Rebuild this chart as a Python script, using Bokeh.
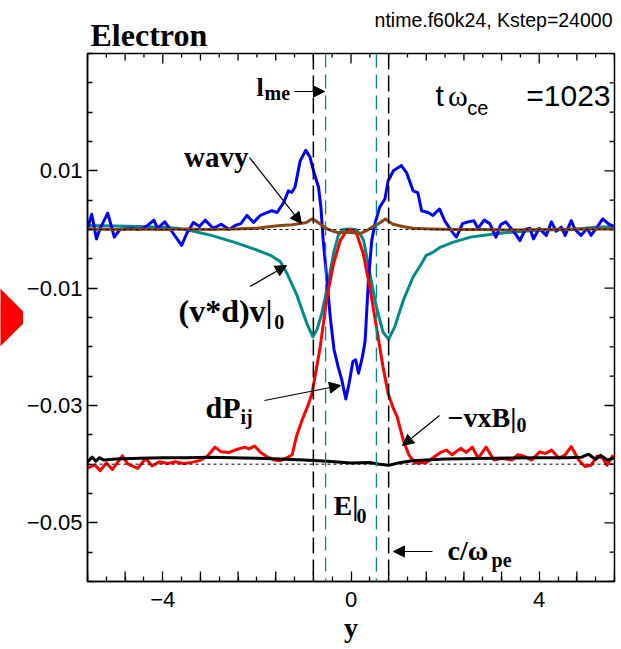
from math import pi
from bokeh.plotting import figure
from bokeh.models import (Range1d, Span, Label, Arrow, NormalHead, FixedTicker)
from bokeh.layouts import column, row
from bokeh.embed import file_html
from bokeh.resources import INLINE

# ---------------- data ----------------
y_blue = [-5.6, -5.51, -5.41, -5.33, -5.17, -5.03, -4.91, -4.66, -4.49, -4.32,
          -4.19, -4.11, -3.96, -3.81, -3.6, -3.48, -3.35, -3.22, -3.1, -2.93,
          -2.76, -2.59, -2.46, -2.34, -2.21, -2.07, -1.93, -1.68, -1.57, -1.43,
          -1.33, -1.26, -1.19, -1.08, -0.96, -0.87, -0.78, -0.69, -0.64, -0.59,
          -0.51, -0.44, -0.36, -0.27, -0.2, -0.11, -0.04, 0.04, 0.1, 0.16,
          0.24, 0.3, 0.37, 0.44, 0.51, 0.61, 0.72, 0.79, 0.9, 1.07,
          1.18, 1.32, 1.42, 1.5, 1.64, 1.74, 1.88, 1.99, 2.13, 2.24,
          2.37, 2.49, 2.61, 2.7, 2.83, 2.95, 3.08, 3.18, 3.29, 3.42,
          3.5, 3.59, 3.7, 3.8, 3.88, 4.0, 4.15, 4.26, 4.36, 4.47,
          4.55, 4.68, 4.76, 4.89, 5.02, 5.1, 5.22, 5.35, 5.48, 5.6]
v_blue = [0.0002, 0.0026, -0.0016, 0.0002, 0.0028, -0.0013, 0.0, 0.0002, 0.0, 0.0007,
          0.0016, 0.0002, 0.0013, -0.0003, -0.0027, -0.0005, 0.0012, 0.0005, 0.0016, 0.0002,
          0.0009, 0.0, 0.0007, 0.001, 0.0024, 0.0012, 0.0024, 0.0032, 0.0029, 0.0046,
          0.0066, 0.0063, 0.0072, 0.0117, 0.0135, 0.0123, 0.0095, 0.0072, 0.0038, -0.0019,
          -0.0087, -0.015, -0.0205, -0.0235, -0.0255, -0.0289, -0.0262, -0.0225, -0.0222, -0.0245,
          -0.0218, -0.019, -0.0087, -0.0019, 0.001, 0.0038, 0.0052, 0.0083, 0.01, 0.0109,
          0.0097, 0.0066, 0.0063, 0.0032, 0.0029, 0.0024, 0.0035, 0.0015, -0.0002, -0.0013,
          0.001, 0.0013, 0.0015, 0.0002, 0.0016, 0.001, -0.0013, 0.0008, 0.0013, 0.0,
          -0.0008, -0.0019, 0.0, 0.0002, -0.0016, 0.0002, -0.001, 0.0013, -0.0003, 0.0004,
          -0.001, 0.0015, 0.0, -0.001, 0.0002, -0.001, 0.0003, 0.0018, 0.0009, 0.0005]

y_teal = [-5.6, -5.0, -4.5, -4.0, -3.7, -3.39, -2.97, -2.47, -2.0, -1.71,
          -1.5, -1.36, -1.15, -0.94, -0.81, -0.72, -0.62, -0.5, -0.37, -0.27,
          -0.18, -0.05, 0.1, 0.2, 0.27, 0.4, 0.54, 0.68, 0.8, 0.93,
          1.11, 1.32, 1.5, 1.6, 1.74, 1.88, 2.16, 2.54, 2.91, 3.33,
          4.0, 4.7, 5.2, 5.6]
v_teal = [0.0007, 0.0006, 0.0005, 0.0004, 0.0002, -0.0002, -0.001, -0.0022, -0.0035, -0.0044,
          -0.0055, -0.0075, -0.0112, -0.016, -0.0183, -0.017, -0.0143, -0.0098, -0.004, -0.001,
          0.0, 0.0001, 0.0, -0.0008, -0.0019, -0.0075, -0.0132, -0.0175, -0.0187, -0.0166,
          -0.0121, -0.0081, -0.0058, -0.0044, -0.0039, -0.0031, -0.0022, -0.0013, -0.0009, -0.0005,
          -0.0001, 0.0, 0.0004, 0.0005]

y_red = [-5.6, -5.45, -5.33, -5.2, -5.07, -4.86, -4.74, -4.53, -4.36, -4.23,
         -4.07, -3.9, -3.73, -3.56, -3.39, -3.22, -3.06, -2.89, -2.76, -2.59,
         -2.43, -2.26, -2.17, -2.05, -1.92, -1.79, -1.63, -1.5, -1.38, -1.25,
         -1.16, -1.04, -0.91, -0.83, -0.66, -0.51, -0.37, -0.23, -0.09, 0.01,
         0.12, 0.26, 0.4, 0.54, 0.68, 0.79, 0.9, 0.98, 1.11, 1.23,
         1.36, 1.61, 1.78, 1.9, 2.03, 2.15, 2.33, 2.45, 2.58, 2.7,
         2.87, 3.04, 3.2, 3.42, 3.54, 3.66, 3.84, 4.01, 4.13, 4.26,
         4.42, 4.55, 4.68, 4.84, 4.97, 5.1, 5.23, 5.35, 5.44, 5.56, 5.6]
v_red = [-0.0407, -0.0401, -0.0411, -0.0398, -0.0409, -0.0386, -0.04, -0.0407, -0.039, -0.0403,
         -0.0396, -0.0399, -0.0396, -0.0399, -0.0397, -0.0394, -0.0387, -0.0371, -0.0379, -0.038,
         -0.0375, -0.0371, -0.0374, -0.0369, -0.038, -0.0387, -0.0393, -0.0394, -0.039, -0.0384,
         -0.0353, -0.0325, -0.0299, -0.028, -0.0203, -0.0115, -0.0058, -0.0019, -0.0002, 0.0,
         -0.0007, -0.0041, -0.0098, -0.0166, -0.0234, -0.028, -0.0305, -0.0319, -0.0359, -0.0384,
         -0.0398, -0.0397, -0.0387, -0.038, -0.0376, -0.0384, -0.0373, -0.038, -0.0371, -0.039,
         -0.0371, -0.0393, -0.039, -0.0393, -0.0384, -0.0386, -0.0393, -0.0379, -0.0382, -0.0376,
         -0.039, -0.0384, -0.037, -0.0393, -0.0404, -0.0402, -0.0386, -0.039, -0.0402, -0.0386, -0.0388]

y_black = [-5.6, -5.5, -5.42, -5.35, -5.25, -5.0, -4.5, -4.0, -3.5, -3.0,
           -2.5, -2.0, -1.5, -1.0, -0.5, 0.0, 0.4, 0.6, 0.8, 1.0,
           1.3, 2.0, 3.0, 4.0, 4.6, 4.9, 5.05, 5.2, 5.3, 5.45, 5.6]
v_black = [-0.0396, -0.0388, -0.0395, -0.0389, -0.0393, -0.0391, -0.039, -0.0389, -0.0389, -0.0388,
           -0.0389, -0.039, -0.0391, -0.0393, -0.0395, -0.0398, -0.0397, -0.04, -0.0402, -0.0398,
           -0.0394, -0.0391, -0.039, -0.0389, -0.0389, -0.0388, -0.0383, -0.0392, -0.0385, -0.0393, -0.0389]

y_brown = [-5.6, -5.0, -4.5, -4.0, -3.5, -3.0, -2.5, -2.0, -1.7, -1.5,
           -1.25, -1.08, -0.95, -0.83, -0.75, -0.62, -0.48, -0.3, 0.0, 0.19,
           0.33, 0.47, 0.61, 0.73, 0.82, 0.89, 1.1, 1.32, 1.7, 2.2,
           2.8, 3.5, 4.2, 5.0, 5.6]
v_brown = [0.0001, 0.0, 0.0001, 0.0, 0.0001, 0.0, 0.0001, 0.0002, 0.0005, 0.0007,
           0.0008, 0.001, 0.0012, 0.0018, 0.0015, 0.0007, 0.0, -0.0005, -0.0005, -0.0007,
           -0.0002, 0.0005, 0.0011, 0.0018, 0.0013, 0.0009, 0.0005, 0.0002, 0.0001, 0.0,
           0.0, -0.0001, 0.0, 0.0001, 0.0001]

ref_levels = [0.0, -0.04]        # dotted reference lines
c_wpe = [-0.8, 0.8]              # black dashed lines
l_me = [-0.54, 0.54]             # teal dashed lines

marker_y = [-0.015]              # red diamond cut by the left edge
marker_x = [0.0]

x_labeled = [-4.0, 0.0, 4.0]
x_medium = [-5.6, -4.8, -3.2, -2.4, -1.6, -0.8, 0.8, 1.6, 2.4, 3.2, 4.8, 5.6]
x_small = [-5.2, -4.4, -3.6, -2.8, -2.0, -1.2, -0.4, 0.4, 1.2, 2.0, 2.8, 3.6, 4.4, 5.2]
x_labels = {-4.0: "\u22124", 0.0: "0", 4.0: "4"}
y_labeled = [0.01, -0.01, -0.03, -0.05]
y_small = [0.03, 0.025, 0.02, 0.015, 0.005, 0.0, -0.005, -0.015, -0.02, -0.025,
           -0.035, -0.04, -0.045, -0.055, -0.06]
y_labels = {0.01: "0.01", -0.01: "\u22120.01", -0.03: "\u22120.03", -0.05: "\u22120.05"}

# ---------------- geometry ----------------
SANS = "Liberation Sans"
SERIF = "Liberation Serif"
XR = (-5.6, 5.6)
YR = (-0.06, 0.03)
HEAD_H = 52
LEFT_W = 23
MAIN_W = 621 - LEFT_W
MAIN_H = 649 - HEAD_H
FR_L, FR_R, FR_T, FR_B = 64, 7, 1, 68
PPX = (MAIN_W - FR_L - FR_R) / (XR[1] - XR[0])   # pixels per x unit
PPY = (MAIN_H - FR_T - FR_B) / (YR[1] - YR[0])   # pixels per y unit
BASE_SHIFT = 0.28                                # baseline correction (fraction of font size)


def hide_grid(f):
    for g in f.grid:
        g.visible = False


# ---------------- header (titles) ----------------
head = figure(width=621, height=HEAD_H, x_range=Range1d(0, 621), y_range=Range1d(HEAD_H, 0),
              x_axis_location=None, y_axis_location=None, output_backend="svg",
              toolbar_location=None, min_border=0, outline_line_color=None)
hide_grid(head)


def hlab(x, y, t, fs, font, style, align):
    head.add_layout(Label(x=x, y=y - BASE_SHIFT * fs, text=t, text_font=font,
                          text_font_style=style, text_font_size=f"{fs}px",
                          text_align=align, text_baseline="alphabetic", text_color="black"))


hlab(90, 43.3, "Electron", 32, SERIF, "bold", "left")
hlab(612, 24.5, "ntime.f60k24, Kstep=24000", 19.5, SANS, "normal", "right")

# ---------------- left strip (red diamond) ----------------
side = figure(width=LEFT_W, height=MAIN_H, x_range=Range1d(0, LEFT_W), y_range=Range1d(*YR),
              x_axis_location=None, y_axis_location=None, output_backend="svg",
              toolbar_location=None, min_border=0, min_border_top=FR_T,
              min_border_bottom=FR_B, outline_line_color=None)
hide_grid(side)
side.scatter(marker_x, marker_y, marker="square", size=40, angle=pi / 4,
             fill_color="red", line_color="red")

# ---------------- main plot ----------------
p = figure(width=MAIN_W, height=MAIN_H, x_range=Range1d(*XR), y_range=Range1d(*YR),
           output_backend="svg", toolbar_location=None,
           min_border_left=FR_L, min_border_right=FR_R, min_border_top=FR_T,
           min_border_bottom=FR_B)
hide_grid(p)
p.outline_line_color = "black"
p.outline_line_width = 1.5


def style_axis(ax, major, minor, labels):
    ax.ticker = FixedTicker(ticks=major, minor_ticks=minor)
    ax.axis_line_color = "black"
    ax.axis_line_width = 1.5
    ax.major_tick_line_color = "black"
    ax.major_tick_line_width = 1.3
    ax.minor_tick_line_color = "black"
    ax.minor_tick_line_width = 1.3
    ax.major_tick_in = 10
    ax.major_tick_out = 0
    ax.minor_tick_in = 5
    ax.minor_tick_out = 0
    ax.major_label_overrides = labels
    ax.major_label_text_font = SANS
    ax.major_label_text_font_size = "22px"
    ax.major_label_text_color = "black"


style_axis(p.xaxis[0], x_labeled, x_medium + x_small, x_labels)
p.xaxis[0].major_label_standoff = 10
p.xaxis[0].axis_label = "y"
p.xaxis[0].axis_label_text_font = SERIF
p.xaxis[0].axis_label_text_font_style = "bold"
p.xaxis[0].axis_label_text_font_size = "28px"
p.xaxis[0].axis_label_text_color = "black"
p.xaxis[0].axis_label_standoff = 2
style_axis(p.yaxis[0], y_labeled, y_small, y_labels)
p.yaxis[0].major_label_standoff = 5
p.yaxis[0].major_label_orientation = "horizontal"


# mirrored ticks on the top and right edges, and the medium bottom ticks
def xticks(xs, y_edge, length_px, down=True):
    d = length_px / PPY
    y1 = y_edge - d if down else y_edge + d
    p.segment(x0=xs, y0=[y_edge] * len(xs), x1=xs, y1=[y1] * len(xs),
              line_color="black", line_width=1.3)


def yticks(ys, x_edge, length_px):
    d = length_px / PPX
    p.segment(x0=[x_edge] * len(ys), y0=ys, x1=[x_edge - d] * len(ys), y1=ys,
              line_color="black", line_width=1.3)


xticks(x_labeled, YR[1], 10)
xticks(x_medium, YR[1], 7)
xticks(x_small, YR[1], 4)
xticks(x_medium, YR[0], 10, down=False)
yticks(y_labeled, XR[1], 10)
yticks(y_small, XR[1], 5)

# ---------------- curves ----------------
p.line(y_teal, v_teal, line_color="#008b8b", line_width=3, line_join="round")
p.line(y_blue, v_blue, line_color="#0000ff", line_width=3, line_join="round")
p.line(y_red, v_red, line_color="#ff0000", line_width=3, line_join="round")
p.line(y_black, v_black, line_color="black", line_width=3, line_join="round")
p.line(y_brown, v_brown, line_color="#8b4513", line_width=3, line_join="round")

for lv in ref_levels:
    p.add_layout(Span(location=lv, dimension="width", line_color="black",
                      line_width=1, line_dash="3 3"))
for lv in c_wpe:
    p.add_layout(Span(location=lv, dimension="height", line_color="black",
                      line_width=1.5, line_dash="16 6"))
for lv in l_me:
    p.add_layout(Span(location=lv, dimension="height", line_color="#008b8b",
                      line_width=1.3, line_dash="14 7"))


# ---------------- annotations ----------------
def lab(x, y, t, fs, font=SERIF, style="bold", align="left"):
    p.add_layout(Label(x=x, y=y + BASE_SHIFT * fs / PPY, text=t, text_font=font,
                       text_font_style=style, text_font_size=f"{fs}px", text_align=align,
                       text_baseline="alphabetic", text_color="black"))


def arr(x0, y0, x1, y1):
    p.add_layout(Arrow(x_start=x0, y_start=y0, x_end=x1, y_end=y1,
                       line_color="black", line_width=1.2,
                       end=NormalHead(size=11, fill_color="black", line_color="black")))


lab(1.796, 0.02148, "t", 30, font=SANS, style="normal")
lab(2.06, 0.02148, "\u03c9", 30, font=SERIF, style="normal")
lab(2.47, 0.01977, "ce", 20, font=SANS, style="normal")
lab(5.515, 0.02148, "=1023", 30, font=SANS, style="normal", align="right")

lab(-2.008, 0.02301, "l", 26)
lab(-1.838, 0.02233, "me", 20)
arr(-1.201, 0.02352, -0.563, 0.02352)

lab(-3.549, 0.01091, "wavy", 29)
arr(-2.157, 0.01227, -1.052, 0.00102)

lab(-3.666, -0.01534, "(v*d)v|", 32)
lab(-1.63, -0.0167, "0", 20)
arr(-2.147, -0.00972, -1.371, -0.00614)

lab(-3.092, -0.0317, "dP", 30)
lab(-2.349, -0.0329, "ij", 20)
arr(-1.838, -0.02915, -0.223, -0.02659)

lab(2.051, -0.03341, "\u2212vxB|", 28)
lab(3.518, -0.03426, "0", 20)
arr(1.881, -0.0317, 1.095, -0.03682)

lab(-0.372, -0.04841, "E|", 28)
lab(0.117, -0.04977, "0", 20)

lab(2.051, -0.05608, "c/\u03c9", 28)
lab(2.986, -0.05727, "pe", 20)
arr(1.732, -0.05489, 0.903, -0.05489)

layout = column(head, row(side, p, spacing=0), spacing=0)
open("out.html", "w").write(file_html(layout, INLINE))
